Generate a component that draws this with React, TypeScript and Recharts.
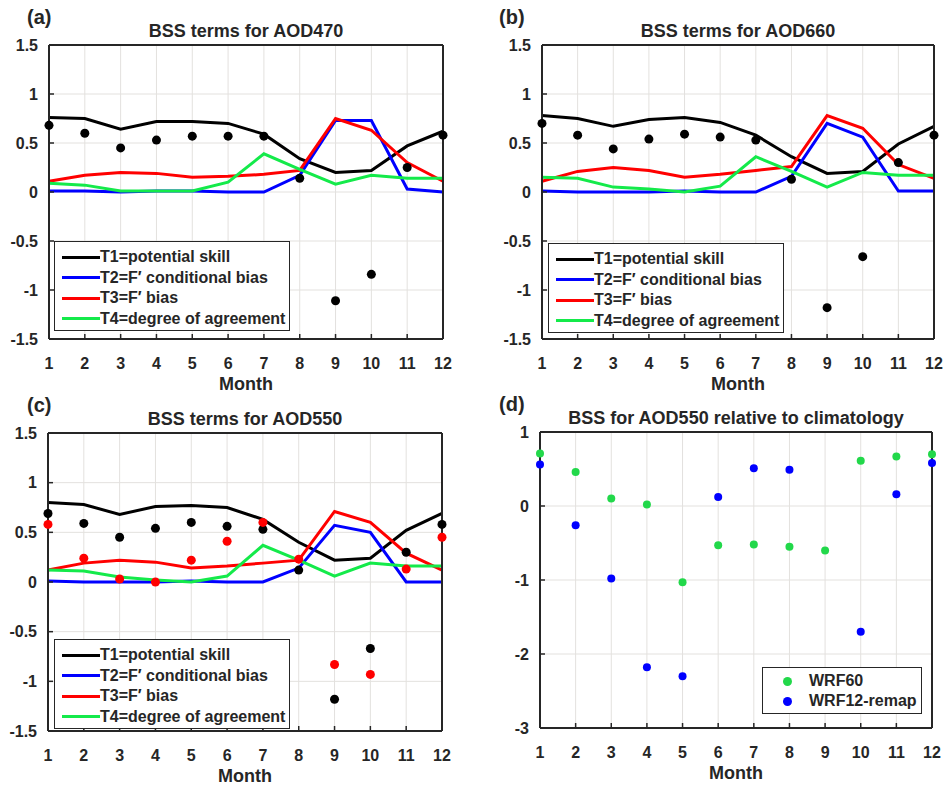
import { CartesianGrid, ComposedChart, Line, XAxis, YAxis } from "recharts";

// month axis shared by every panel
const months = [1, 2, 3, 4, 5, 6, 7, 8, 9, 10, 11, 12];
const termTicks = [-1.5, -1, -0.5, 0, 0.5, 1, 1.5];
const bssTicks = [-3, -2, -1, 0, 1];

// (a) AOD470
const a_T1 = [0.76, 0.75, 0.64, 0.72, 0.72, 0.7, 0.59, 0.34, 0.2, 0.22, 0.47, 0.62];
const a_T2 = [0.01, 0.01, 0, 0.01, 0.01, 0, 0, 0.17, 0.73, 0.73, 0.03, 0];
const a_T3 = [0.11, 0.17, 0.2, 0.19, 0.15, 0.16, 0.18, 0.22, 0.75, 0.63, 0.3, 0.11];
const a_T4 = [0.09, 0.07, 0.01, 0.01, 0.01, 0.1, 0.39, 0.23, 0.08, 0.17, 0.14, 0.14];
const a_BSS = [0.68, 0.6, 0.45, 0.53, 0.57, 0.57, 0.57, 0.14, -1.11, -0.84, 0.25, 0.58];

// (b) AOD660
const b_T1 = [0.78, 0.75, 0.67, 0.74, 0.76, 0.71, 0.58, 0.36, 0.19, 0.21, 0.49, 0.67];
const b_T2 = [0.01, 0, 0, 0, 0.01, 0, 0, 0.16, 0.7, 0.56, 0.01, 0.01];
const b_T3 = [0.11, 0.21, 0.25, 0.22, 0.15, 0.18, 0.22, 0.26, 0.78, 0.65, 0.28, 0.14];
const b_T4 = [0.15, 0.14, 0.05, 0.03, 0, 0.06, 0.36, 0.21, 0.05, 0.2, 0.17, 0.17];
const b_BSS = [0.7, 0.58, 0.44, 0.54, 0.59, 0.56, 0.53, 0.13, -1.18, -0.66, 0.3, 0.58];

// (c) AOD550
const c_T1 = [0.8, 0.78, 0.68, 0.76, 0.77, 0.75, 0.63, 0.4, 0.22, 0.24, 0.52, 0.69];
const c_T2 = [0.01, 0, 0, 0, 0.01, 0, 0, 0.14, 0.57, 0.5, 0, 0];
const c_T3 = [0.12, 0.19, 0.22, 0.2, 0.14, 0.16, 0.19, 0.22, 0.71, 0.6, 0.29, 0.12];
const c_T4 = [0.12, 0.11, 0.05, 0.02, 0, 0.06, 0.37, 0.22, 0.06, 0.19, 0.16, 0.16];
const c_BSS = [0.69, 0.59, 0.45, 0.54, 0.6, 0.56, 0.53, 0.12, -1.18, -0.67, 0.3, 0.58];
const c_BSS2 = [0.58, 0.24, 0.03, 0, 0.22, 0.41, 0.6, 0.23, -0.83, -0.93, 0.13, 0.45];

// (d) BSS relative to climatology
const d_WRF60 = [0.71, 0.46, 0.1, 0.02, -1.03, -0.53, -0.52, -0.55, -0.6, 0.61, 0.67, 0.7];
const d_WRF12 = [0.56, -0.26, -0.98, -2.18, -2.3, 0.12, 0.51, 0.49, null, -1.7, 0.16, 0.58];

const INK = "#262626";
const GRID = "#e3e1de";
const FONT = '"Liberation Sans", Arial, sans-serif';
const BLUE = "#0000ff";
const RED = "#ff0000";
const GREEN = "#14ea4a";
const DOT_GREEN = "#22d84a";

const termLegend = [
  { label: "T1=potential skill", color: "#000" },
  { label: "T2=F\u2032 conditional bias", color: BLUE },
  { label: "T3=F\u2032 bias", color: RED },
  { label: "T4=degree of agreement", color: GREEN },
];

const toRows = (cols: Record<string, (number | null)[]>) =>
  months.map((m, i) => {
    const row: any = { month: m };
    for (const k in cols) row[k] = cols[k][i];
    return row;
  });

type Series = { key: string; color: string; kind: "line" | "dot"; r?: number };

const W = 472;
const H = 390;
const YW = 45;
const XH = 30;

const tickFont = { fill: INK, fontSize: 16, fontWeight: "bold", fontFamily: FONT };

const Panel = ({
  left,
  top,
  plot,
  domain,
  ticks,
  rows,
  series,
  title,
  letter,
  children,
}: any) => {
  const cx = (plot.x0 + plot.x1) / 2;
  return (
    <div style={{ position: "absolute", left, top, width: W, height: H }}>
      <ComposedChart
        width={W}
        height={H}
        data={rows}
        margin={{
          top: plot.y0 - 1,
          right: W - plot.x1 - 1,
          bottom: H - plot.y1 - XH,
          left: plot.x0 - YW,
        }}
      >
        <CartesianGrid xAxisId="b" yAxisId="l" stroke={GRID} strokeWidth={1} />
        <XAxis
          xAxisId="b"
          dataKey="month"
          type="number"
          domain={[1, 12]}
          ticks={months}
          interval={0}
          height={XH}
          axisLine={{ stroke: INK, strokeWidth: 2 }}
          tickLine={{ stroke: INK, strokeWidth: 1.5 }}
          tickSize={-5}
          tickMargin={24}
          tick={tickFont}
        />
        <XAxis
          xAxisId="t"
          orientation="top"
          dataKey="month"
          type="number"
          domain={[1, 12]}
          ticks={months}
          interval={0}
          height={1}
          axisLine={{ stroke: INK, strokeWidth: 2 }}
          tickLine={{ stroke: INK, strokeWidth: 1.5 }}
          tickSize={-5}
          tick={false}
        />
        <YAxis
          yAxisId="l"
          type="number"
          domain={domain}
          ticks={ticks}
          interval={0}
          width={YW}
          axisLine={{ stroke: INK, strokeWidth: 2 }}
          tickLine={{ stroke: INK, strokeWidth: 1.5 }}
          tickSize={-5}
          tickMargin={16}
          tick={tickFont}
        />
        <YAxis
          yAxisId="r"
          orientation="right"
          type="number"
          domain={domain}
          ticks={ticks}
          interval={0}
          width={1}
          axisLine={{ stroke: INK, strokeWidth: 2 }}
          tickLine={{ stroke: INK, strokeWidth: 1.5 }}
          tickSize={-5}
          tick={false}
        />
        {series.map((s: Series) =>
          s.kind === "line" ? (
            <Line
              key={s.key}
              xAxisId="b"
              yAxisId="l"
              type="linear"
              dataKey={s.key}
              stroke={s.color}
              strokeWidth={3}
              dot={false}
              activeDot={false}
              isAnimationActive={false}
            />
          ) : (
            <Line
              key={s.key}
              xAxisId="b"
              yAxisId="l"
              type="linear"
              dataKey={s.key}
              stroke="none"
              dot={{ r: s.r ?? 4.5, fill: s.color, stroke: "none" }}
              activeDot={false}
              isAnimationActive={false}
            />
          )
        )}
      </ComposedChart>
      <div
        style={{
          position: "absolute",
          left: 27,
          top: plot.y0 - 39,
          fontFamily: FONT,
          fontWeight: "bold",
          fontSize: 20,
          color: INK,
          lineHeight: "22px",
        }}
      >
        {letter}
      </div>
      <div
        style={{
          position: "absolute",
          left: cx - 220,
          width: 440,
          top: plot.y0 - 24,
          textAlign: "center",
          fontFamily: FONT,
          fontWeight: "bold",
          fontSize: 18,
          color: INK,
          lineHeight: "20px",
        }}
      >
        {title}
      </div>
      <div
        style={{
          position: "absolute",
          left: cx - 60,
          width: 120,
          top: plot.y1 + 35,
          textAlign: "center",
          fontFamily: FONT,
          fontWeight: "bold",
          fontSize: 18,
          color: INK,
          lineHeight: "20px",
        }}
      >
        Month
      </div>
      {children}
    </div>
  );
};

const TermLegend = ({ left, top }: { left: number; top: number }) => (
  <div
    style={{
      position: "absolute",
      left,
      top,
      border: `1.5px solid ${INK}`,
      background: "#fff",
      padding: "5px 4px 1px 7px",
      fontFamily: FONT,
      fontWeight: "bold",
      fontSize: 16,
      color: INK,
    }}
  >
    {termLegend.map((it) => (
      <div key={it.label} style={{ display: "flex", alignItems: "center", height: 20.5, whiteSpace: "nowrap" }}>
        <span style={{ display: "inline-block", width: 38, height: 3, background: it.color }} />
        <span>{it.label}</span>
      </div>
    ))}
  </div>
);

const DotLegend = ({ left, top }: { left: number; top: number }) => (
  <div
    style={{
      position: "absolute",
      left,
      top,
      width: 158,
      border: `1.5px solid ${INK}`,
      background: "#fff",
      padding: "3px 0 2px 0",
      fontFamily: FONT,
      fontWeight: "bold",
      fontSize: 16,
      color: INK,
    }}
  >
    {[
      { label: "WRF60", color: DOT_GREEN },
      { label: "WRF12-remap", color: BLUE },
    ].map((it) => (
      <div key={it.label} style={{ display: "flex", alignItems: "center", height: 20, whiteSpace: "nowrap" }}>
        <span
          style={{
            display: "inline-block",
            width: 9,
            height: 9,
            borderRadius: "50%",
            background: it.color,
            marginLeft: 20,
            marginRight: 17,
          }}
        />
        <span>{it.label}</span>
      </div>
    ))}
  </div>
);

const termSeries: Series[] = [
  { key: "t1", color: "#000", kind: "line" },
  { key: "t2", color: BLUE, kind: "line" },
  { key: "t3", color: RED, kind: "line" },
  { key: "t4", color: GREEN, kind: "line" },
  { key: "bss", color: "#000", kind: "dot" },
];

const App = () => {
  const rowsA = toRows({ t1: a_T1, t2: a_T2, t3: a_T3, t4: a_T4, bss: a_BSS });
  const rowsB = toRows({ t1: b_T1, t2: b_T2, t3: b_T3, t4: b_T4, bss: b_BSS });
  const rowsC = toRows({ t1: c_T1, t2: c_T2, t3: c_T3, t4: c_T4, bss: c_BSS, bss2: c_BSS2 });
  const rowsD = toRows({ wrf60: d_WRF60, wrf12: d_WRF12 });
  return (
    <div style={{ position: "absolute", left: 0, top: 0, width: 944, height: 787, background: "#fff" }}>
      <Panel
        left={0}
        top={0}
        plot={{ x0: 49, x1: 443, y0: 45, y1: 339 }}
        domain={[-1.5, 1.5]}
        ticks={termTicks}
        rows={rowsA}
        series={termSeries}
        title="BSS terms for AOD470"
        letter="(a)"
      >
        <TermLegend left={54} top={241} />
      </Panel>
      <Panel
        left={472}
        top={0}
        plot={{ x0: 70, x1: 462, y0: 45, y1: 339 }}
        domain={[-1.5, 1.5]}
        ticks={termTicks}
        rows={rowsB}
        series={termSeries}
        title="BSS terms for AOD660"
        letter="(b)"
      >
        <TermLegend left={76} top={243} />
      </Panel>
      <Panel
        left={0}
        top={390}
        plot={{ x0: 48, x1: 442, y0: 43, y1: 341 }}
        domain={[-1.5, 1.5]}
        ticks={termTicks}
        rows={rowsC}
        series={[...termSeries, { key: "bss2", color: RED, kind: "dot" }]}
        title="BSS terms for AOD550"
        letter="(c)"
      >
        <TermLegend left={54} top={249} />
      </Panel>
      <Panel
        left={472}
        top={390}
        plot={{ x0: 68, x1: 460, y0: 42, y1: 338 }}
        domain={[-3, 1]}
        ticks={bssTicks}
        rows={rowsD}
        series={[
          { key: "wrf60", color: DOT_GREEN, kind: "dot", r: 4 },
          { key: "wrf12", color: BLUE, kind: "dot", r: 4 },
        ]}
        title="BSS for AOD550 relative to climatology"
        letter="(d)"
      >
        <DotLegend left={290} top={277} />
      </Panel>
    </div>
  );
};

export default App;
